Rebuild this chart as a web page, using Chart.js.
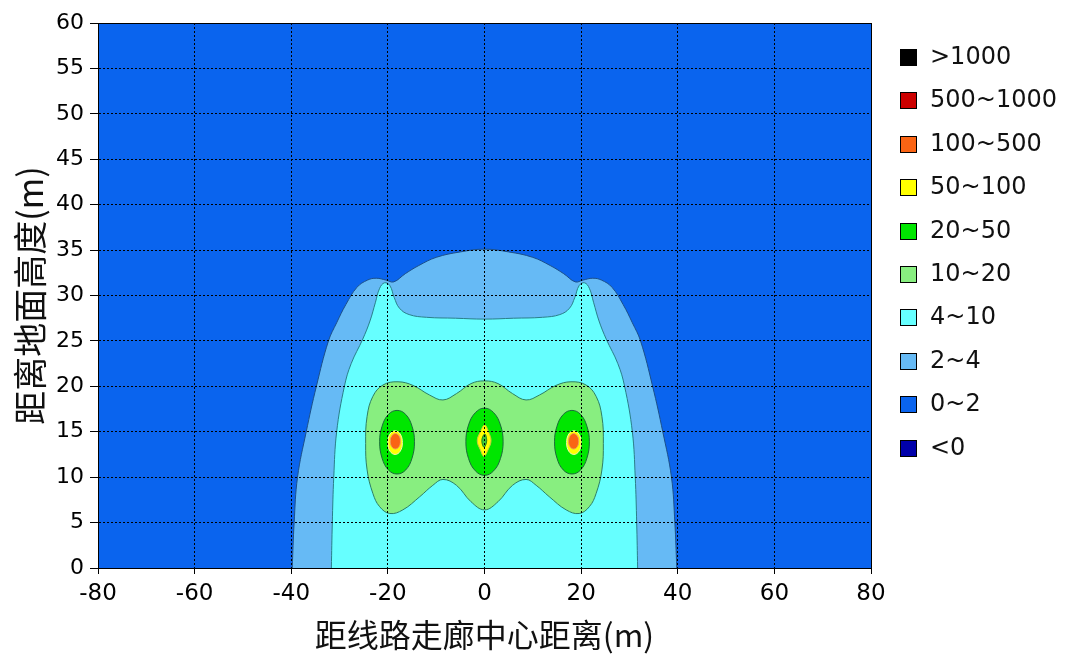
<!DOCTYPE html>
<html>
<head>
<meta charset="utf-8">
<script src="https://cdn.jsdelivr.net/npm/chart.js@4.4.1/dist/chart.umd.min.js"></script>
<style>
  html, body { margin: 0; padding: 0; background: #fff; }
  #wrap { width: 1065px; height: 654px; position: relative; }
</style>
</head>
<body>
<div id="wrap"><canvas id="fieldChart"></canvas></div>
<script>
// legend levels, top to bottom
const legendLabels = ['>1000', '500~1000', '100~500', '50~100', '20~50', '10~20', '4~10', '2~4', '0~2', '<0'];
const legendColors = ['#000000', '#cc0000', '#fa6414', '#ffff00', '#00e600', '#88ee80', '#66ffff', '#66baf5', '#0a64ee', '#0000aa'];

const xTicks = [-80, -60, -40, -20, 0, 20, 40, 60, 80];
const yTicks = [0, 5, 10, 15, 20, 25, 30, 35, 40, 45, 50, 55, 60];

// contour boundaries, [distance m, height m]
const contour2 = [[-39.8,0],[-39.4,5],[-38.7,10],[-36.9,15],[-34.8,20],[-32.3,25],[-30.6,27],[-28.7,29],[-26.4,30.9],[-24.2,31.7],[-22.4,31.9],[-20.4,31.7],[-18.8,31.5],[-16.4,32.4],[-13.6,33.3],[-10,34.2],[-5,34.8],[0,35.1],[5,34.8],[10,34.2],[13.6,33.3],[16.4,32.4],[18.8,31.5],[20.4,31.7],[22.4,31.9],[24.2,31.7],[26.4,30.9],[28.7,29],[30.6,27],[32.3,25],[34.8,20],[36.9,15],[38.7,10],[39.4,5],[39.8,0]];
const contour4 = [[-31.7,0],[-31.5,5],[-31.2,10],[-30.6,15],[-29,20],[-27.6,22.5],[-25.2,25.2],[-23.7,27.2],[-22.6,29.2],[-21.7,30.8],[-20.7,31.4],[-19.6,31.1],[-18.7,29.8],[-17.6,28.6],[-15.6,27.9],[-12,27.6],[-6,27.5],[0,27.4],[6,27.5],[12,27.6],[15.6,27.9],[17.6,28.6],[18.7,29.8],[19.6,31.1],[20.7,31.4],[21.7,30.8],[22.6,29.2],[23.7,27.2],[25.2,25.2],[27.6,22.5],[29,20],[30.6,15],[31.2,10],[31.5,5],[31.7,0]];
const contour10 = [[-24.6,13.7],[-24.3,16.7],[-23.1,18.9],[-21,20.15],[-17.9,20.5],[-14.8,20.1],[-11.4,19.05],[-8.6,18.5],[-5.8,19.2],[-2.8,20.3],[0,20.6],[2.8,20.3],[5.8,19.2],[8.6,18.5],[11.4,19.05],[14.8,20.1],[17.9,20.5],[21,20.15],[23.1,18.9],[24.3,16.7],[24.6,13.7],[24.3,10.8],[23.1,8.2],[21.7,6.75],[19.6,6.0],[16.9,6.4],[13.4,7.85],[10.7,9.1],[8.6,9.75],[5.8,9.1],[2.8,7.3],[0,6.4],[-2.8,7.3],[-5.8,9.1],[-8.6,9.75],[-10.7,9.1],[-13.4,7.85],[-16.9,6.4],[-19.6,6.0],[-21.7,6.75],[-23.1,8.2],[-24.3,10.8]];
const contour20Left = [[-14.5,13.9],[-15,15.6],[-16.3,16.9],[-18.1,17.35],[-19.9,16.9],[-21.2,15.6],[-21.7,13.9],[-21.2,12.1],[-19.9,10.8],[-18.1,10.35],[-16.3,10.8],[-15,12.1]];
const contour20Mid = [[3.85,13.9],[3.3,15.75],[1.9,17.1],[0,17.6],[-1.9,17.1],[-3.3,15.75],[-3.85,13.9],[-3.3,12.05],[-1.9,10.7],[0,10.2],[1.9,10.7],[3.3,12.05]];
const contour20Right = [[21.7,13.9],[21.2,15.6],[19.9,16.9],[18.1,17.35],[16.3,16.9],[15,15.6],[14.5,13.9],[15,12.1],[16.3,10.8],[18.1,10.35],[19.9,10.8],[21.2,12.1]];
const contour50Left = [[-17,13.8],[-17.45,14.75],[-18.5,15.1],[-19.55,14.75],[-20,13.8],[-19.55,12.85],[-18.5,12.5],[-17.45,12.85]];
const contour50Mid = [[1.35,14.0],[0.9,14.9],[0.05,15.75],[-0.85,15.0],[-1.5,14.0],[-0.85,13.0],[-0.1,12.3],[0.8,13.1]];
const contour50Right = [[20,13.8],[19.55,14.75],[18.5,15.1],[17.45,14.75],[17,13.8],[17.45,12.85],[18.5,12.5],[19.55,12.85]];
const dipMid = [[0.45,14.0],[0.05,14.75],[-0.55,14.05],[-0.1,13.3]];
const contour100Left = [[-17.4,13.95],[-17.7,14.55],[-18.45,14.8],[-19.2,14.55],[-19.5,13.95],[-19.2,13.35],[-18.45,13.1],[-17.7,13.35]];
const contour100Right = [[19.5,13.95],[19.2,14.55],[18.45,14.8],[17.7,14.55],[17.4,13.95],[17.7,13.35],[18.45,13.1],[19.2,13.35]];

function region(pts, color, edge, closed) {
    return {
        data: pts.map(p => ({ x: p[0], y: p[1] })),
        showLine: true,
        fill: 'shape',
        backgroundColor: color,
        borderColor: edge,
        borderWidth: 1,
        pointRadius: 0,
        tension: 0.4,
        closed: closed
    };
}

// innermost first so it is painted on top
const datasets = [
    region(contour100Left, legendColors[2], '#e8a060', true),
    region(contour100Right, legendColors[2], '#e8a060', true),
    region(dipMid, '#3cc83c', '#1a7a1a', true),
    region(contour50Left, legendColors[3], '#f4f4b0', true),
    region(contour50Mid, legendColors[3], '#c8c840', true),
    region(contour50Right, legendColors[3], '#f4f4b0', true),
    region(contour20Left, legendColors[4], '#1a6a3a', true),
    region(contour20Mid, legendColors[4], '#1a6a3a', true),
    region(contour20Right, legendColors[4], '#1a6a3a', true),
    region(contour10, legendColors[5], '#2e7f66', true),
    region(contour4, legendColors[6], '#2a7f8a', false),
    region(contour2, legendColors[7], '#1b4f8a', false)
];

// closed contours: let the line wrap around so the spline has no seam
const loopPlugin = {
    id: 'loopPlugin',
    afterDatasetUpdate(chart, args) {
        const ds = chart.data.datasets[args.index];
        const line = args.meta.dataset;
        if (ds.closed && line) {
            line._loop = true;
            line._fullLoop = true;
            line._pointsUpdated = false;
            delete line._segments;
            delete line._path;
        }
    }
};

const backgroundPlugin = {
    id: 'plotBackground',
    beforeDraw(chart) {
        const { ctx, chartArea: a } = chart;
        ctx.save();
        ctx.fillStyle = '#fff';
        ctx.fillRect(0, 0, chart.width, chart.height);
        ctx.fillStyle = legendColors[8];
        ctx.fillRect(a.left, a.top, a.right - a.left, a.bottom - a.top);
        ctx.restore();
    },
    afterDraw(chart) {
        const { ctx, chartArea: a } = chart;
        ctx.save();
        ctx.strokeStyle = '#000';
        ctx.lineWidth = 1;
        ctx.strokeRect(Math.round(a.left) + 0.5, Math.round(a.top) + 0.5, Math.round(a.right - a.left), Math.round(a.bottom - a.top));
        ctx.restore();
    }
};

const legendPlugin = {
    id: 'levelLegend',
    afterDraw(chart) {
        const ctx = chart.ctx;
        ctx.save();
        ctx.font = '24px "DejaVu Sans"';
        ctx.textBaseline = 'middle';
        legendLabels.forEach((t, i) => {
            const y = Math.round(57 + i * 43.4);
            ctx.fillStyle = legendColors[i];
            ctx.fillRect(900, y - 8, 17, 17);
            ctx.strokeStyle = '#000';
            ctx.lineWidth = 1;
            ctx.strokeRect(900.5, y - 7.5, 16, 16);
            ctx.fillStyle = '#111';
            ctx.fillText(t, 930, y + 1);
        });
        ctx.restore();
    }
};

const ctx = document.getElementById('fieldChart').getContext('2d');
new Chart(ctx, {
    type: 'scatter',
    data: { datasets: datasets },
    plugins: [loopPlugin, backgroundPlugin, legendPlugin],
    options: {
        responsive: true,
        maintainAspectRatio: false,
        animation: false,
        layout: { padding: { top: 23, right: 194, left: 0, bottom: 0 } },
        plugins: {
            legend: { display: false },
            tooltip: { enabled: false }
        },
        scales: {
            x: {
                type: 'linear',
                min: -80,
                max: 80,
                afterFit: s => { s.height = 86; },
                afterBuildTicks: s => { s.ticks = xTicks.map(v => ({ value: v })); },
                ticks: { color: '#000', font: { family: 'DejaVu Sans', size: 23 }, padding: 6 },
                grid: { color: '#000', lineWidth: 1, tickLength: 6, z: 1 },
                border: { display: true, color: '#000', width: 1, dash: [2, 2], z: 2 },
                title: {
                    display: true,
                    text: '距线路走廊中心距离(m)',
                    color: '#111',
                    font: { family: 'Noto Sans CJK SC', size: 32 },
                    padding: { top: 0, bottom: 0 }
                }
            },
            y: {
                type: 'linear',
                min: 0,
                max: 60,
                afterFit: s => { s.width = 98; },
                afterBuildTicks: s => { s.ticks = yTicks.map(v => ({ value: v })); },
                ticks: { color: '#000', font: { family: 'DejaVu Sans', size: 22 }, padding: 6 },
                grid: { color: '#000', lineWidth: 1, tickLength: 8, z: 1 },
                border: { display: true, color: '#000', width: 1, dash: [2, 2], z: 2 },
                title: {
                    display: true,
                    text: '距离地面高度(m)',
                    color: '#111',
                    font: { family: 'Noto Sans CJK SC', size: 34 },
                    padding: { top: 10, bottom: 0 }
                }
            }
        }
    }
});
</script>
</body>
</html>
